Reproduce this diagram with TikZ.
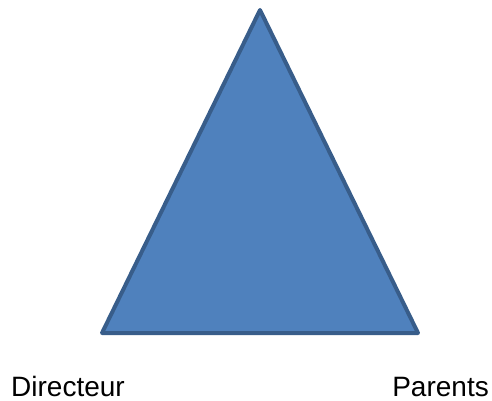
\documentclass[tikz,border=0pt]{standalone}
\usepackage{fontspec}
\setmainfont{Liberation Sans}
\definecolor{triFill}{HTML}{4F81BD}
\definecolor{triLine}{HTML}{385D8A}
\begin{document}
\begin{tikzpicture}[x=1pt,y=-1pt,
		labeltext/.style={font=\fontsize{28}{32}\selectfont, inner sep=0pt}]
		\useasboundingbox (0,0) rectangle (492,401);
		% corners of the triangle
		\coordinate (apex) at (260,10);
		\coordinate (left) at (102,333);
		\coordinate (right) at (418,333);
		\filldraw[fill=triFill, draw=triLine, line width=4, line join=round]
			(apex) -- (right) -- (left) -- cycle;
		% labels
		\node[labeltext, anchor=base west] (directeur) at (11,396) {Directeur};
		\node[labeltext, anchor=base east] (parents) at (489,396) {Parents};
	\end{tikzpicture}
\end{document}
